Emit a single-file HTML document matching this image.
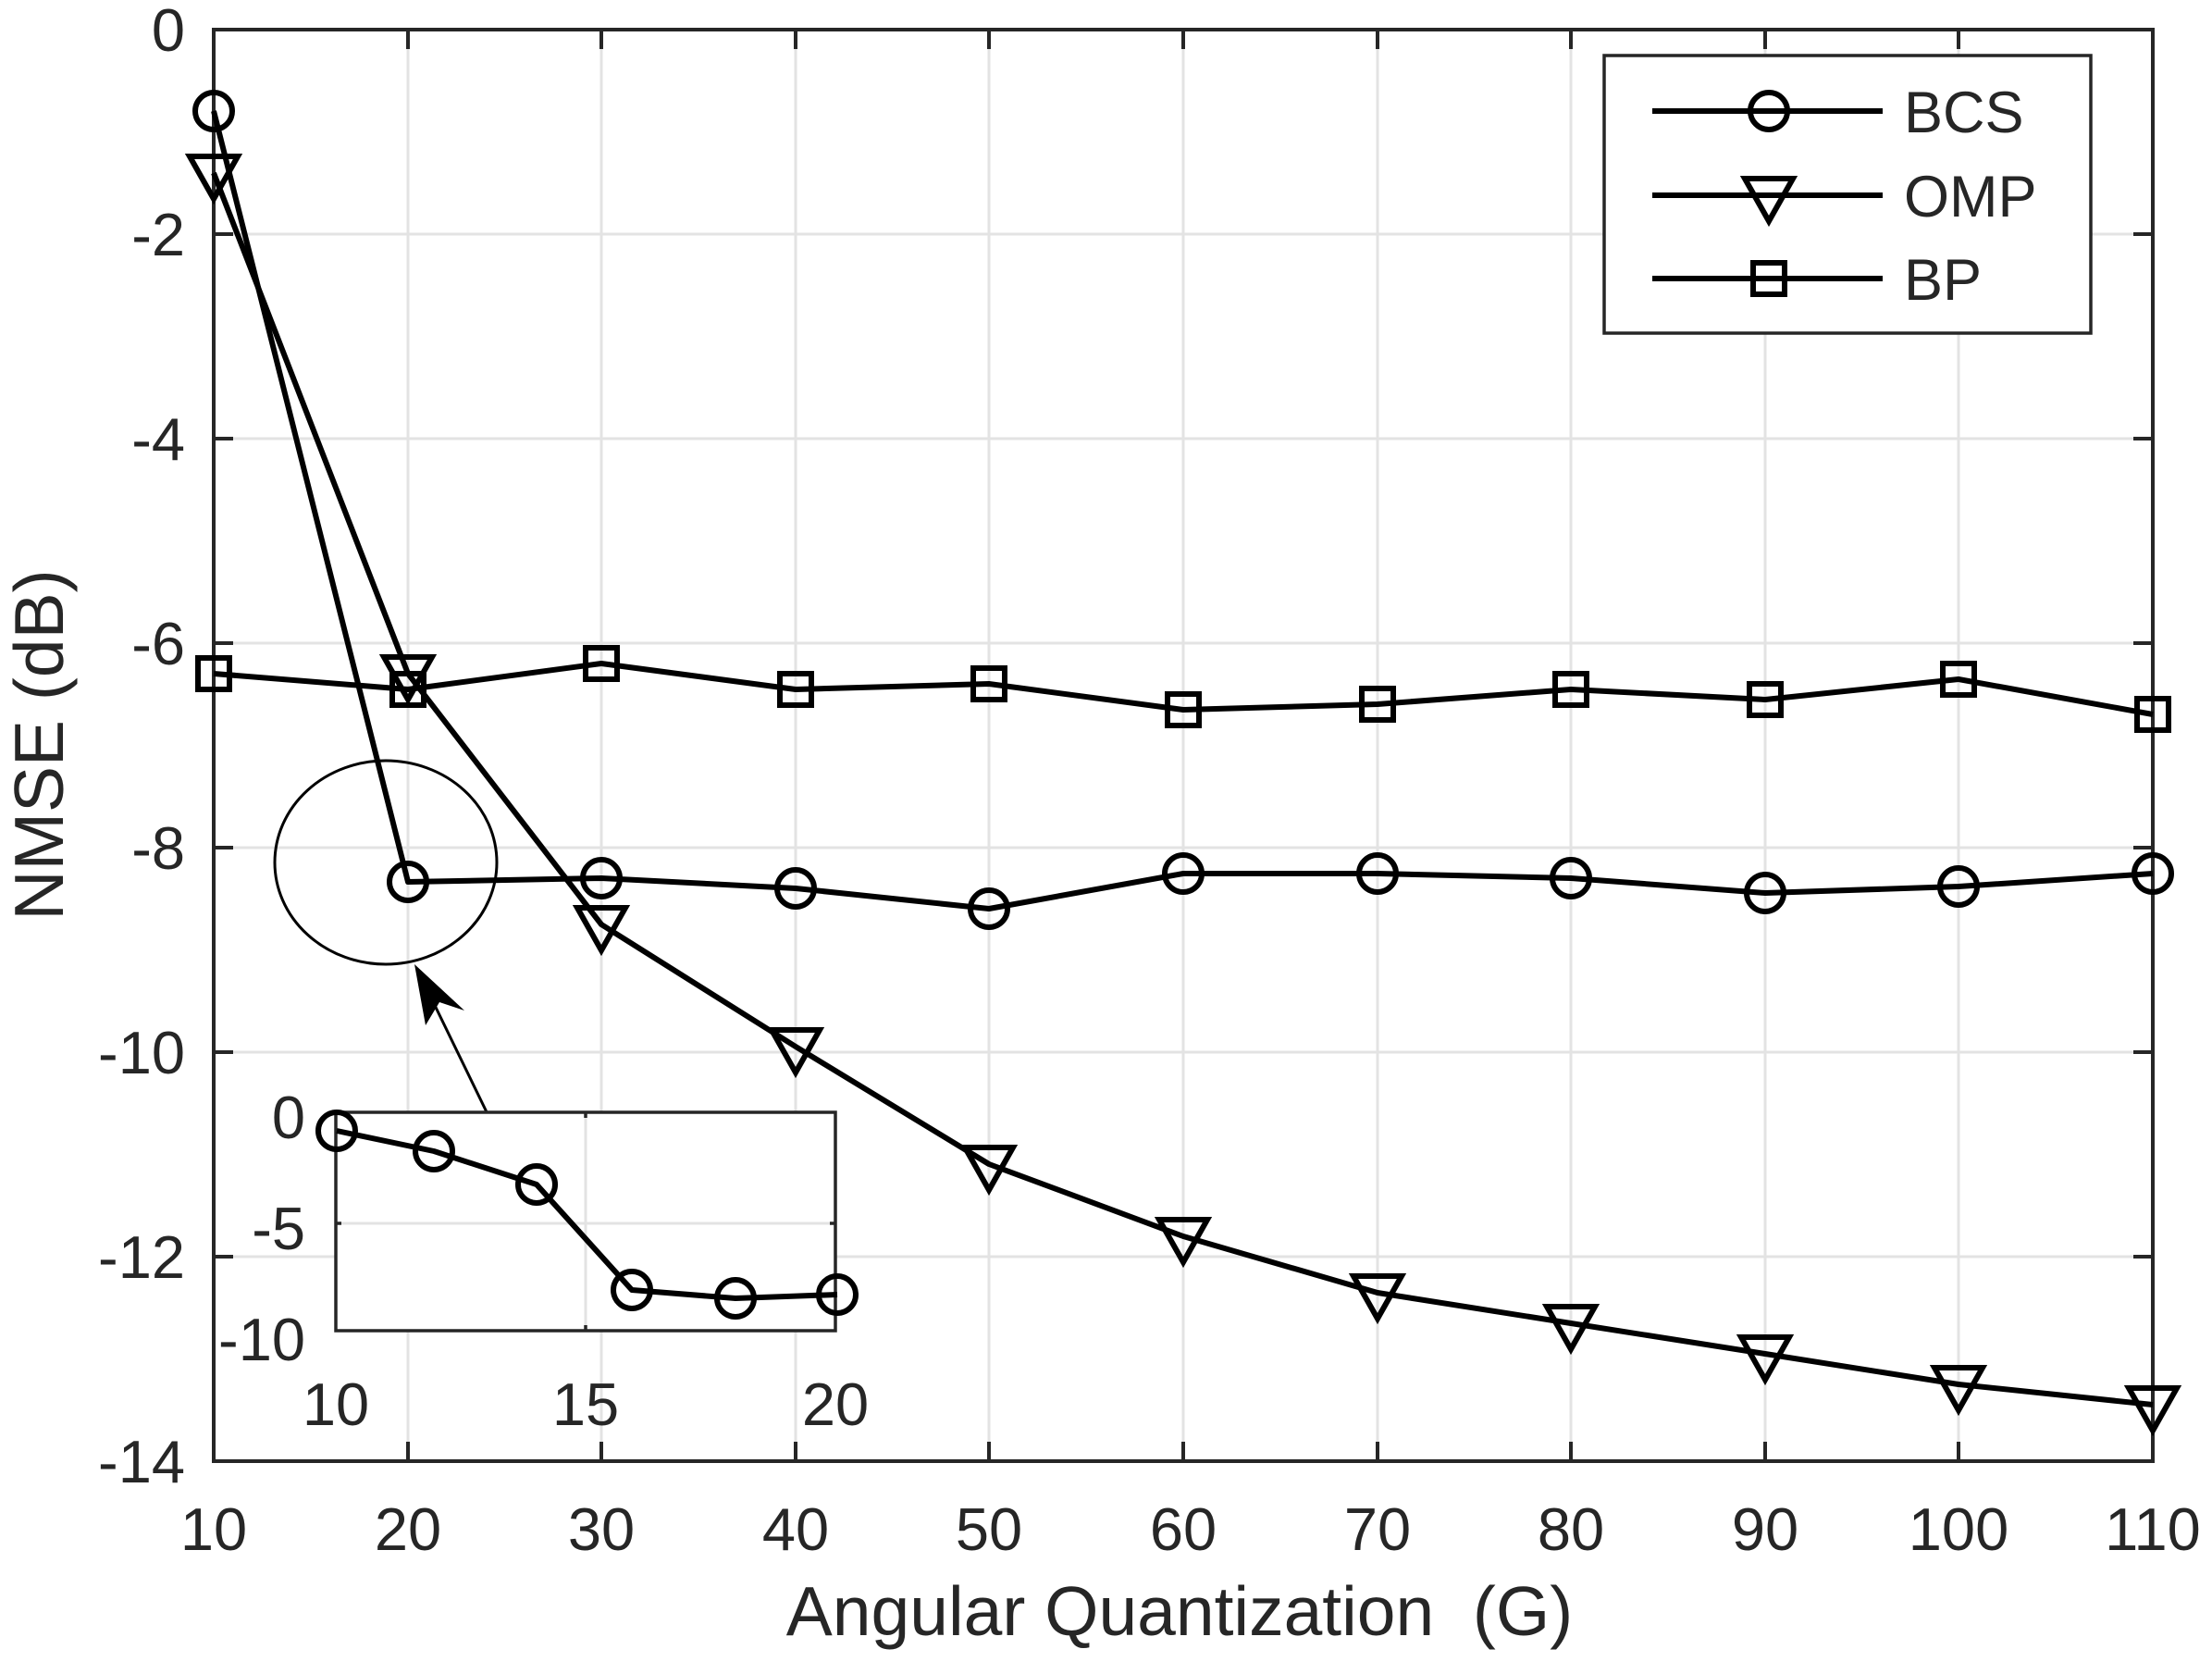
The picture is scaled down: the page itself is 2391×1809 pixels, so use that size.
<!DOCTYPE html>
<html><head><meta charset="utf-8"><style>html,body{margin:0;padding:0;background:#fff}svg{display:block}text{font-family:"Liberation Sans",sans-serif;fill:#262626}</style></head><body>
<svg width="2391" height="1809" viewBox="0 0 2391 1809" xmlns="http://www.w3.org/2000/svg">
<defs>
<g id="c"><circle r="20" fill="none" stroke="#000" stroke-width="6"/></g>
<g id="t"><polygon points="-26,-18 26,-18 0,28" fill="none" stroke="#000" stroke-width="6"/></g>
<g id="s"><rect x="-17" y="-17" width="34" height="34" fill="none" stroke="#000" stroke-width="6"/></g>
</defs>
<rect width="2391" height="1809" fill="#fff"/>
<g stroke="#e3e3e3" stroke-width="3">
<line x1="441" y1="32" x2="441" y2="1579"/><line x1="650" y1="32" x2="650" y2="1579"/><line x1="860" y1="32" x2="860" y2="1579"/><line x1="1069" y1="32" x2="1069" y2="1579"/><line x1="1279" y1="32" x2="1279" y2="1579"/><line x1="1489" y1="32" x2="1489" y2="1579"/><line x1="1698" y1="32" x2="1698" y2="1579"/><line x1="1908" y1="32" x2="1908" y2="1579"/><line x1="2117" y1="32" x2="2117" y2="1579"/>
<line x1="231" y1="253" x2="2327" y2="253"/><line x1="231" y1="474" x2="2327" y2="474"/><line x1="231" y1="695" x2="2327" y2="695"/><line x1="231" y1="916" x2="2327" y2="916"/><line x1="231" y1="1137" x2="2327" y2="1137"/><line x1="231" y1="1358" x2="2327" y2="1358"/>
</g>
<rect x="231" y="32" width="2096" height="1547" fill="none" stroke="#262626" stroke-width="4"/>
<g stroke="#262626" stroke-width="4">
<path d="M441 1579v-21M650 1579v-21M860 1579v-21M1069 1579v-21M1279 1579v-21M1489 1579v-21M1698 1579v-21M1908 1579v-21M2117 1579v-21"/>
<path d="M441 32v21M650 32v21M860 32v21M1069 32v21M1279 32v21M1489 32v21M1698 32v21M1908 32v21M2117 32v21"/>
<path d="M231 253h21M231 474h21M231 695h21M231 916h21M231 1137h21M231 1358h21M2327 253h-21M2327 474h-21M2327 695h-21M2327 916h-21M2327 1137h-21M2327 1358h-21"/>
</g>
<g font-size="65" text-anchor="end">
<text x="200" y="55">0</text><text x="200" y="276">-2</text><text x="200" y="497">-4</text><text x="200" y="718">-6</text><text x="200" y="939">-8</text><text x="200" y="1160">-10</text><text x="200" y="1381">-12</text><text x="200" y="1602">-14</text>
</g>
<g font-size="65" text-anchor="middle">
<text x="231" y="1675">10</text><text x="441" y="1675">20</text><text x="650" y="1675">30</text><text x="860" y="1675">40</text><text x="1069" y="1675">50</text><text x="1279" y="1675">60</text><text x="1489" y="1675">70</text><text x="1698" y="1675">80</text><text x="1908" y="1675">90</text><text x="2117" y="1675">100</text><text x="2327" y="1675">110</text>
</g>
<text x="1275" y="1767" font-size="75" text-anchor="middle" xml:space="preserve">Angular Quantization  (G)</text>
<text transform="translate(68,805) rotate(-90)" font-size="75" text-anchor="middle">NMSE (dB)</text>
<g fill="none" stroke="#000" stroke-width="6" stroke-linejoin="round">
<polyline points="231,120 441,953 650,949 860,960 1069,982 1279,944 1489,944 1698,949 1908,965 2117,958 2327,944"/>
<polyline points="231,187 441,728 650,999 860,1131 1069,1258 1279,1336 1489,1397 1698,1430 1908,1463 2117,1496 2327,1518"/>
<polyline points="231,728 441,745 650,717 860,745 1069,739 1279,767 1489,761 1698,745 1908,756 2117,734 2327,772"/>
</g>
<g>
<use href="#c" x="231" y="120"/><use href="#c" x="441" y="953"/><use href="#c" x="650" y="949"/><use href="#c" x="860" y="960"/><use href="#c" x="1069" y="982"/><use href="#c" x="1279" y="944"/><use href="#c" x="1489" y="944"/><use href="#c" x="1698" y="949"/><use href="#c" x="1908" y="965"/><use href="#c" x="2117" y="958"/><use href="#c" x="2327" y="944"/>
<use href="#t" x="231" y="187"/><use href="#t" x="441" y="728"/><use href="#t" x="650" y="999"/><use href="#t" x="860" y="1131"/><use href="#t" x="1069" y="1258"/><use href="#t" x="1279" y="1336"/><use href="#t" x="1489" y="1397"/><use href="#t" x="1698" y="1430"/><use href="#t" x="1908" y="1463"/><use href="#t" x="2117" y="1496"/><use href="#t" x="2327" y="1518"/>
<use href="#s" x="231" y="728"/><use href="#s" x="441" y="745"/><use href="#s" x="650" y="717"/><use href="#s" x="860" y="745"/><use href="#s" x="1069" y="739"/><use href="#s" x="1279" y="767"/><use href="#s" x="1489" y="761"/><use href="#s" x="1698" y="745"/><use href="#s" x="1908" y="756"/><use href="#s" x="2117" y="734"/><use href="#s" x="2327" y="772"/>
</g>
<ellipse cx="417" cy="932" rx="120" ry="110" fill="none" stroke="#000" stroke-width="3"/>
<line x1="531" y1="1212" x2="462" y2="1070" stroke="#000" stroke-width="3"/>
<polygon points="448,1042 502,1092 475,1083 460,1108" fill="#000"/>
<rect x="363" y="1202" width="540" height="236" fill="#fff"/>
<line x1="363" y1="1322" x2="903" y2="1322" stroke="#e3e3e3" stroke-width="3"/>
<line x1="633" y1="1202" x2="633" y2="1438" stroke="#e3e3e3" stroke-width="3"/>
<rect x="363" y="1202" width="540" height="236" fill="none" stroke="#262626" stroke-width="3.5"/>
<path d="M633 1202v6M633 1438v-6M363 1322h6M903 1322h-6" stroke="#262626" stroke-width="3.5"/>
<g font-size="65" text-anchor="end"><text x="330" y="1230">0</text><text x="330" y="1350">-5</text><text x="330" y="1470">-10</text></g>
<g font-size="65" text-anchor="middle"><text x="363" y="1540">10</text><text x="633" y="1540">15</text><text x="903" y="1540">20</text></g>
<polyline points="364,1222 469,1244 580,1280 683,1394 795,1403 905,1399" fill="none" stroke="#000" stroke-width="6" stroke-linejoin="round"/>
<use href="#c" x="364" y="1222"/><use href="#c" x="469" y="1244"/><use href="#c" x="580" y="1280"/><use href="#c" x="683" y="1394"/><use href="#c" x="795" y="1403"/><use href="#c" x="905" y="1399"/>
<rect x="1734" y="60" width="526" height="300" fill="#fff" stroke="#262626" stroke-width="3.5"/>
<g stroke="#000" stroke-width="6"><line x1="1786" y1="120" x2="2035" y2="120"/><line x1="1786" y1="211" x2="2035" y2="211"/><line x1="1786" y1="301" x2="2035" y2="301"/></g>
<use href="#c" x="1912" y="120"/><use href="#t" x="1912" y="211"/><use href="#s" x="1912" y="301"/>
<g font-size="63"><text x="2058" y="143">BCS</text><text x="2058" y="234">OMP</text><text x="2058" y="324">BP</text></g>
</svg>
</body></html>
